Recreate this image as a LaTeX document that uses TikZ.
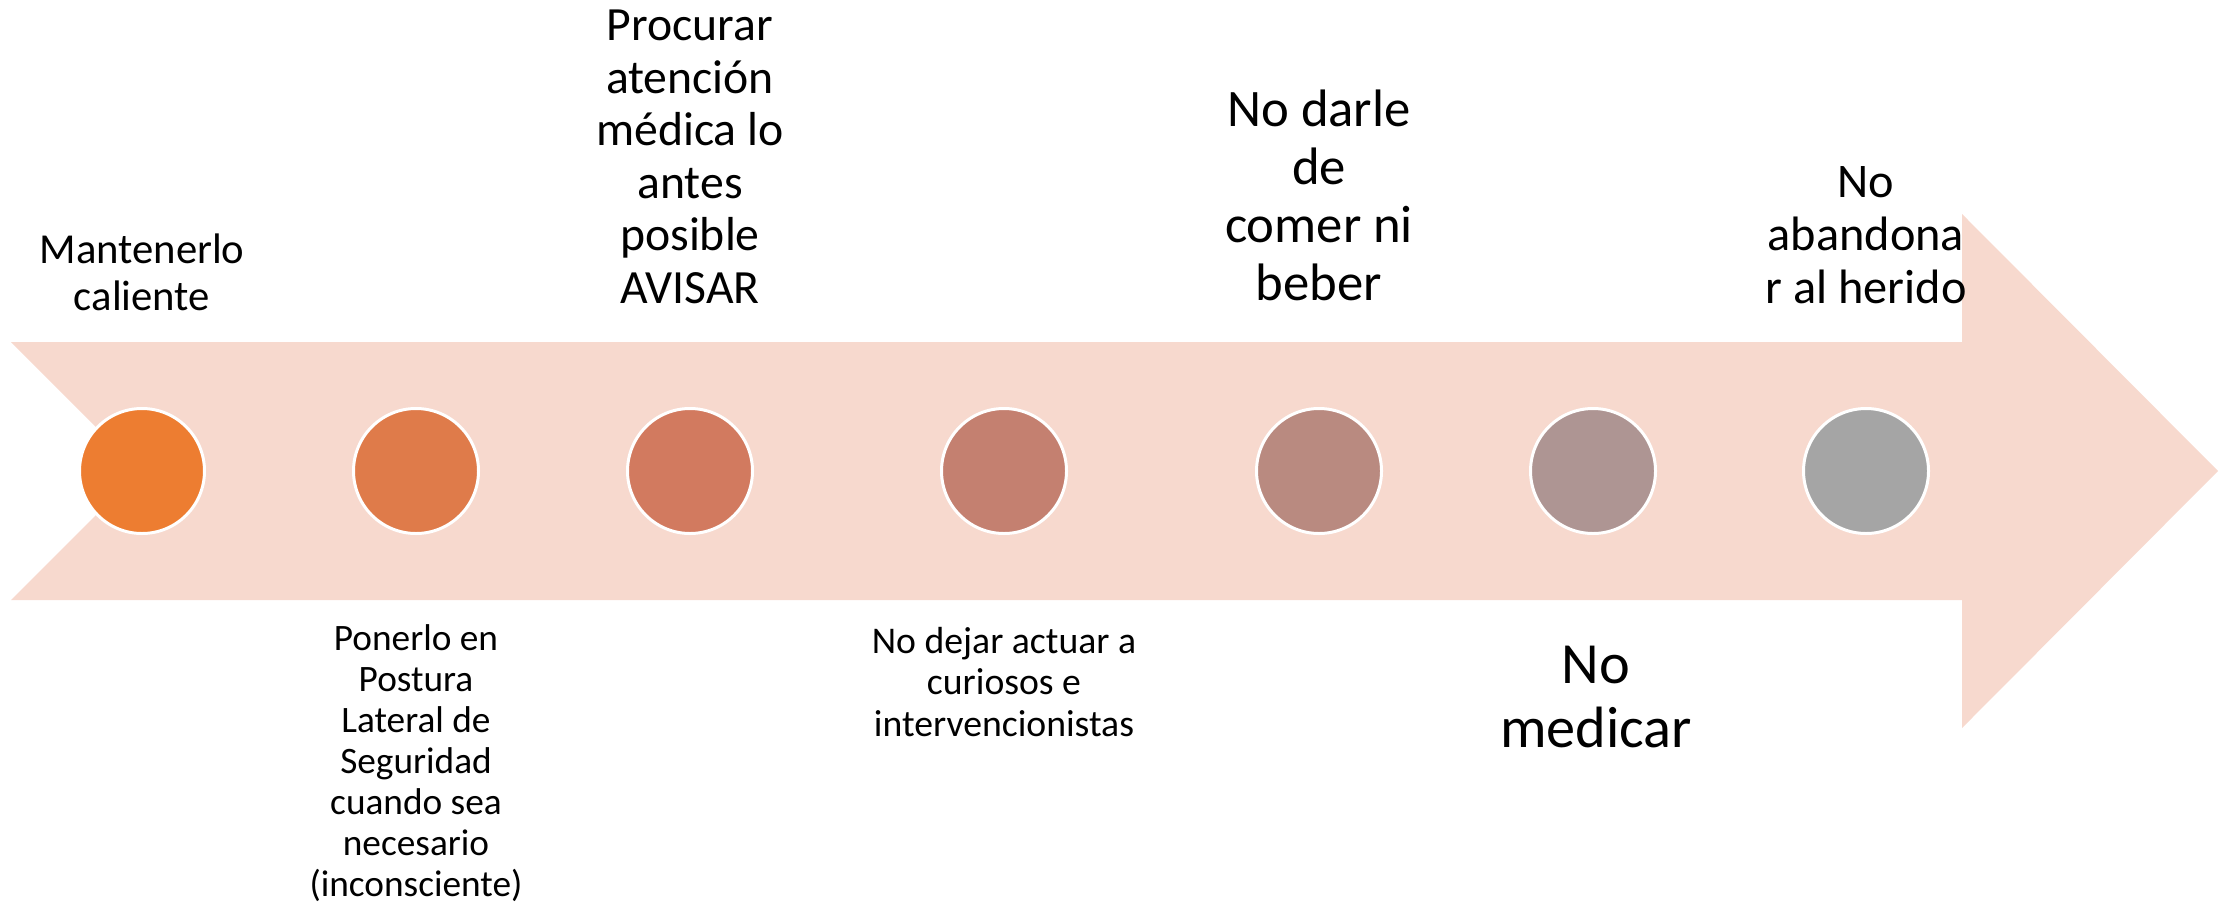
\documentclass[tikz,border=0pt]{standalone}
\usepackage{fontspec}
\setmainfont{Carlito}

\definecolor{band}{RGB}{247,217,206}
\definecolor{dotA}{RGB}{237,125,49}
\definecolor{dotB}{RGB}{223,123,74}
\definecolor{dotC}{RGB}{210,122,95}
\definecolor{dotD}{RGB}{196,128,112}
\definecolor{dotE}{RGB}{185,138,128}
\definecolor{dotF}{RGB}{174,149,147}
\definecolor{dotG}{RGB}{165,165,165}

\tikzstyle{dot}=[circle, draw=white, line width=3pt, minimum size=125pt, inner sep=0pt]
\tikzstyle{note}=[align=center, inner sep=0pt, text=black]
\newcommand{\notesize}[2]{\fontsize{#1}{#2}\selectfont}

\begin{document}
\begin{tikzpicture}[x=1pt,y=-1pt]
\useasboundingbox (0,0) rectangle (2234,908);
\pgfmathsetmacro{\midY}{471}
\pgfmathsetmacro{\bandTop}{342}
\pgfmathsetmacro{\bandBot}{600}
\pgfmathsetmacro{\headX}{1962}
\pgfmathsetmacro{\tipX}{2218}

% band arrow
\fill[band] (11,\bandTop) -- (\headX,\bandTop) -- (\headX,214) -- (\tipX,\midY)
    -- (\headX,728) -- (\headX,\bandBot) -- (11,\bandBot) -- (140,\midY) -- cycle;

% steps
\foreach \i/\x/\c in {1/142/dotA,2/416/dotB,3/690/dotC,4/1004/dotD,5/1319/dotE,6/1593/dotF,7/1866/dotG} {
    \node[dot, fill=\c] (c\i) at (\x,\midY) {};
}

% texts above
\node[note, font={\notesize{42.7}{47}}] (t1) at (142,272) {Mantenerlo\\caliente};
\node[note, font={\notesize{47.7}{52.5}}] (t3) at (690,157) {Procurar\\atención\\médica lo\\antes\\posible\\AVISAR};
\node[note, font={\notesize{52.7}{58}}] (t5) at (1319,195) {No darle\\de\\comer ni\\beber};
\node[note, font={\notesize{48.3}{53}}] (t7) at (1866,235) {No\\abandona\\r al herido};

% texts below
\node[note, font={\notesize{37.3}{41}}] (t2) at (416,763) {Ponerlo en\\Postura\\Lateral de\\Seguridad\\cuando sea\\necesario\\(inconsciente)};
\node[note, font={\notesize{37.7}{41.5}}] (t4) at (1004,682) {No dejar actuar a\\curiosos e\\intervencionistas};
\node[note, font={\notesize{58.3}{64}}] (t6) at (1596,697) {No\\medicar};
\end{tikzpicture}
\end{document}
